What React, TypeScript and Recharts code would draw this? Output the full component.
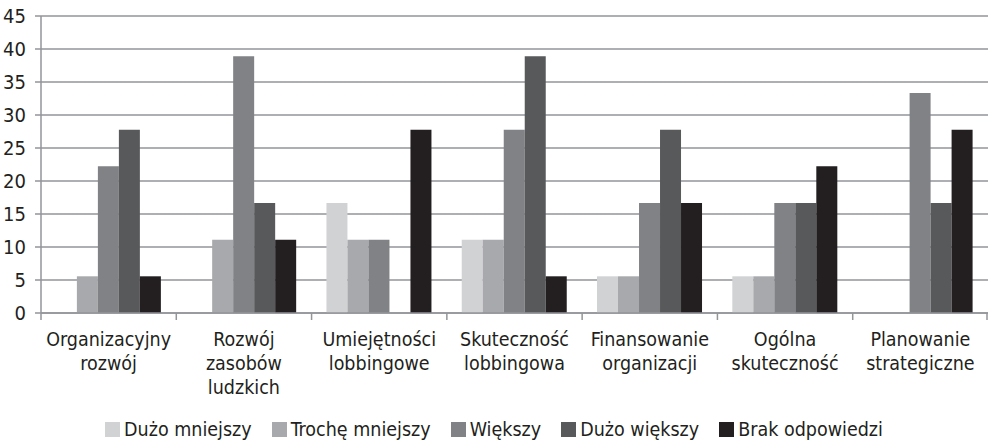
import { BarChart, Bar, XAxis, YAxis, CartesianGrid, Legend } from 'recharts';

const categories = [
  'Organizacyjny rozwój',
  'Rozwój zasobów ludzkich',
  'Umiejętności lobbingowe',
  'Skuteczność lobbingowa',
  'Finansowanie organizacji',
  'Ogólna skuteczność',
  'Planowanie strategiczne',
];

const seriesNames = ['Dużo mniejszy', 'Trochę mniejszy', 'Większy', 'Dużo większy', 'Brak odpowiedzi'];

const duzoMniejszy = [0, 0, 16.67, 11.11, 5.56, 5.56, 0];
const trocheMniejszy = [5.56, 11.11, 11.11, 11.11, 5.56, 5.56, 0];
const wiekszy = [22.22, 38.89, 11.11, 27.78, 16.67, 16.67, 33.33];
const duzoWiekszy = [27.78, 16.67, 0, 38.89, 27.78, 16.67, 16.67];
const brakOdpowiedzi = [5.56, 11.11, 27.78, 5.56, 16.67, 22.22, 27.78];

const yTicks = [0, 5, 10, 15, 20, 25, 30, 35, 40, 45];

const colors = ['#d1d2d4', '#a7a9ac', '#808285', '#58595b', '#231f20'];

const FONT = '"DejaVu Sans Condensed", "Liberation Sans Narrow", sans-serif';
const GRID = '#939598';
const INK = '#231f20';

const W = 988;
const H = 441;
const Y_AXIS_W = 41;

const data = categories.map((name, i) => ({
  name,
  s0: duzoMniejszy[i],
  s1: trocheMniejszy[i],
  s2: wiekszy[i],
  s3: duzoWiekszy[i],
  s4: brakOdpowiedzi[i],
}));

function CategoryTick(props: any) {
  const { x, y, payload, index } = props;
  const half = payload && payload.offset ? payload.offset : (W - Y_AXIS_W) / categories.length / 2;
  const words = String(payload.value).split(' ');
  const last = index === categories.length - 1;
  return (
    <g>
      <line x1={x - half} x2={x - half} y1={y} y2={y + 7} stroke={GRID} strokeWidth={1.5} />
      {last && <line x1={x + half - 1} x2={x + half - 1} y1={y} y2={y + 7} stroke={GRID} strokeWidth={1.5} />}
      <text x={x} y={y + 33} textAnchor="middle" fontSize={19.5} fill={INK} fontFamily={FONT}>
        {words.map((w, k) => (
          <tspan key={k} x={x} dy={k === 0 ? 0 : 24}>
            {w}
          </tspan>
        ))}
      </text>
    </g>
  );
}

function LegendContent(props: any) {
  // keep the series order, not the sorted one
  const items = [...(props.payload || [])].sort(
    (a: any, b: any) => seriesNames.indexOf(a.value) - seriesNames.indexOf(b.value)
  );
  return (
    <div
      style={{
        display: 'flex',
        justifyContent: 'center',
        alignItems: 'center',
        height: 24,
        fontFamily: FONT,
        fontSize: 19.5,
        color: INK,
      }}
    >
      {items.map((it: any, i: number) => (
        <div key={i} style={{ display: 'flex', alignItems: 'center', marginRight: i < items.length - 1 ? 20 : 0 }}>
          <span style={{ width: 15, height: 15, background: it.color, marginRight: 4, display: 'inline-block' }} />
          <span>{it.value}</span>
        </div>
      ))}
    </div>
  );
}

export default function App() {
  return (
    <div style={{ width: W, height: H }}>
      <style>{'body{margin:0}'}</style>
      <BarChart
        width={W}
        height={H}
        data={data}
        margin={{ top: 16, right: 0, bottom: 0, left: 0 }}
        barCategoryGap="11%"
        barGap={0}
      >
        <CartesianGrid vertical={false} stroke={GRID} strokeWidth={1.5} />
        <XAxis
          dataKey="name"
          interval={0}
          height={104}
          tickLine={false}
          tickSize={0}
          tickMargin={0}
          axisLine={{ stroke: GRID, strokeWidth: 1.5 }}
          tick={<CategoryTick />}
        />
        <YAxis
          width={Y_AXIS_W}
          domain={[0, 45]}
          ticks={yTicks}
          interval={0}
          tickSize={6}
          tickMargin={9}
          tickLine={{ stroke: GRID, strokeWidth: 1.5 }}
          axisLine={{ stroke: GRID, strokeWidth: 1.5 }}
          tick={{ fill: INK, fontSize: 20, fontFamily: FONT }}
        />
        <Legend verticalAlign="bottom" content={<LegendContent />} />
        {seriesNames.map((n, i) => (
          <Bar key={n} dataKey={`s${i}`} name={n} fill={colors[i]} isAnimationActive={false} />
        ))}
      </BarChart>
    </div>
  );
}
